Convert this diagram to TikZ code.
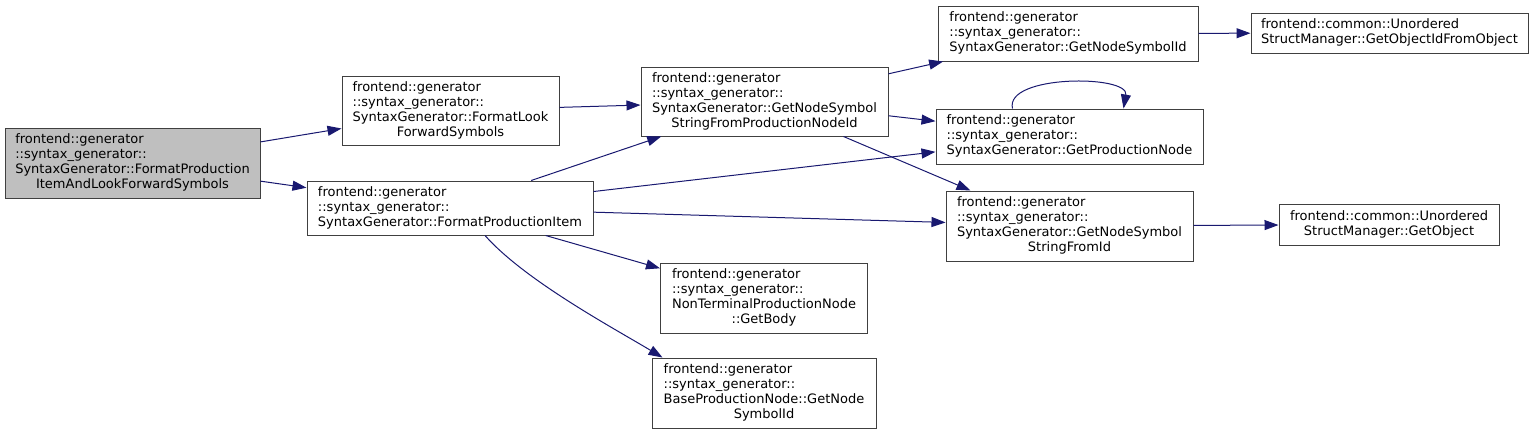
\documentclass[tikz,border=0pt]{standalone}
\usepackage{fontspec}
\setmainfont{DejaVu Sans}
\usetikzlibrary{arrows.meta}
\definecolor{edgeblue}{HTML}{191970}
\definecolor{boxline}{HTML}{404040}
\definecolor{rootfill}{HTML}{BFBFBF}
% righe a sinistra, ultima centrata
\newcommand{\fnlabel}[2]{\begin{tabular}{@{}l@{}}#1\\\multicolumn{1}{@{}c@{}}{#2}\end{tabular}}
\begin{document}
\begin{tikzpicture}[x=1pt,y=-1pt,
  fn/.style={draw=boxline,line width=1pt,fill=white,inner sep=0pt,
    font=\fontsize{13}{15}\selectfont},
  size/.style 2 args={minimum width=#1pt,minimum height=#2pt},
  call/.style={draw=edgeblue,line width=1pt,-{Triangle[length=14pt,width=10pt]}}]
  \useasboundingbox (0,0) rectangle (1533,434);
  \def\gen{frontend::generator\\::syntax\_generator::}

  % funzioni
  \node[fn,fill=rootfill,size={255}{70}] (root) at (132.5,163)
    {\fnlabel{\gen\\SyntaxGenerator::FormatProduction}{ItemAndLookForwardSymbols}};
  \node[fn,size={217}{69}] (look) at (450.5,110.5)
    {\fnlabel{\gen\\SyntaxGenerator::FormatLook}{ForwardSymbols}};
  \node[fn,size={286}{54}] (item) at (450,208)
    {\fnlabel{\gen}{SyntaxGenerator::FormatProductionItem}};
  \node[fn,size={247}{69}] (fromprod) at (764.5,101.5)
    {\fnlabel{\gen\\SyntaxGenerator::GetNodeSymbol}{StringFromProductionNodeId}};
  \node[fn,size={207}{70}] (body) at (764,298)
    {\fnlabel{\gen\\NonTerminalProductionNode}{::GetBody}};
  \node[fn,size={224}{70}] (base) at (764,393)
    {\fnlabel{\gen\\BaseProductionNode::GetNode}{SymbolId}};
  \node[fn,size={260}{55}] (symid) at (1068,33.5)
    {\fnlabel{\gen}{SyntaxGenerator::GetNodeSymbolId}};
  \node[fn,size={267}{55}] (prodnode) at (1069.5,136.5)
    {\fnlabel{\gen}{SyntaxGenerator::GetProductionNode}};
  \node[fn,size={247}{70}] (fromid) at (1069.5,226)
    {\fnlabel{\gen\\SyntaxGenerator::GetNodeSymbol}{StringFromId}};
  \node[fn,size={277}{40}] (objid) at (1389.5,33)
    {\fnlabel{frontend::common::Unordered}{StructManager::GetObjectIdFromObject}};
  \node[fn,size={220}{41}] (getobj) at (1389,224.5)
    {\fnlabel{frontend::common::Unordered}{StructManager::GetObject}};

  % chiamate
  \draw[call] (root) -- (look);
  \draw[call] (root) -- (item);
  \draw[call] (look) -- (fromprod);
  \draw[call] (item) -- (fromprod);
  \draw[call] (item) -- (prodnode);
  \draw[call] (item) -- (fromid);
  \draw[call] (item) -- (body);
  \draw[call] ([xshift=35pt]item.south) .. controls +(40,45) and +(-50,-30) .. ([xshift=11pt]base.north west);
  \draw[call] (fromprod) -- (symid);
  \draw[call] (fromprod) -- (prodnode);
  \draw[call] ([xshift=-45pt]fromprod.south east) -- ([xshift=25pt]fromid.north west);
  \draw[call] ([xshift=-57pt]prodnode.north) .. controls +(-8,-34) and +(6,-34) .. ([xshift=54pt]prodnode.north);
  \draw[call] (symid) -- (objid);
  \draw[call] (fromid) -- (getobj);
\end{tikzpicture}
\end{document}
